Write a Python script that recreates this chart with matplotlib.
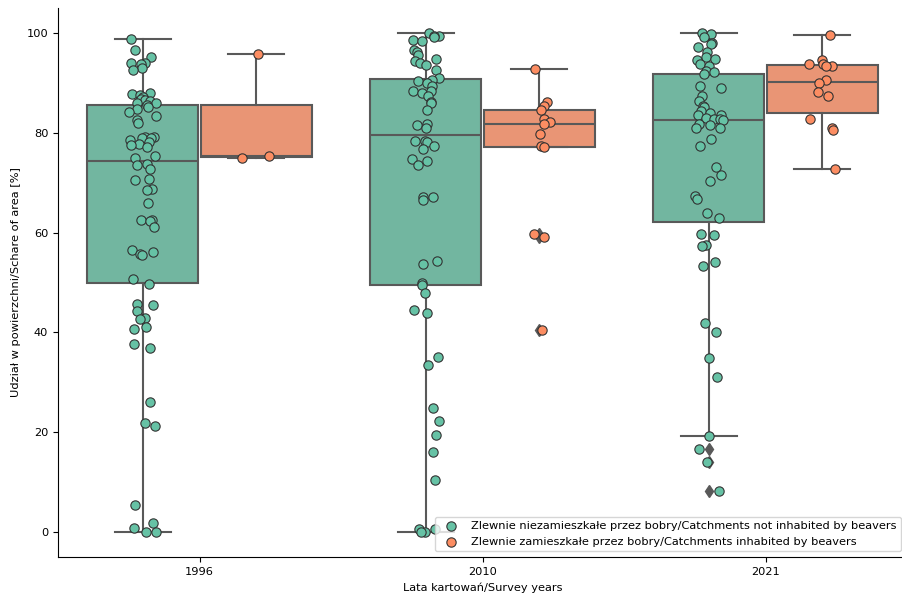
import numpy as np
import matplotlib.pyplot as plt

plt.rcParams['font.size'] = 8.2

years = ['1996', '2010', '2021']

# share of area [%] per catchment, not inhabited by beavers
not_inhabited_1996 = [98.7, 96.5, 95.1, 94.0, 93.9, 93.8, 93.0, 92.6,
                      87.9, 87.7, 87.6, 87.2, 86.8, 86.6, 86.4, 86.0, 85.9, 85.6, 85.2, 84.7, 84.2,
                      83.3, 82.6, 81.9,
                      79.1, 79.1, 79.0, 78.9, 78.5, 78.2, 77.7, 77.6, 77.1, 75.3, 75.0,
                      73.8, 73.6, 72.7, 70.8, 70.5, 68.8, 68.6, 65.9, 62.6, 62.5, 62.4, 61.1,
                      56.6, 56.2, 55.8, 55.5, 50.7,
                      49.7, 45.6, 45.4, 44.3, 42.8, 42.7, 41.1, 40.7, 37.7, 36.8, 26.1, 21.9,
                      21.3, 5.5, 1.9, 0.8, 0.0, 0.0]
not_inhabited_2010 = [100.0, 99.4, 99.3, 99.1, 98.6, 98.4, 96.6, 96.1, 95.6, 94.7, 94.3, 93.9,
                      93.6, 92.6, 90.9,
                      90.6, 90.4, 89.9, 89.4, 88.4, 88.3, 87.9, 87.3, 86.1, 85.9, 84.6, 81.8,
                      81.6, 80.9,
                      78.3, 78.3, 78.1, 77.4, 76.7, 74.8, 74.4, 73.5, 67.1, 67.1, 66.5, 54.3,
                      53.8, 49.9,
                      49.4, 47.9, 44.5, 43.9, 35.1, 33.4, 24.9, 22.3, 19.5, 16.1, 10.5, 0.6,
                      0.6, 0.0, 0.0]
not_inhabited_2021 = [100.0, 99.7, 99.1, 97.9, 97.7, 97.1, 96.1, 95.1, 94.8, 94.6, 93.7, 93.3, 92.3,
                      92.1, 91.8, 89.4, 88.9, 87.4, 86.4, 85.4, 85.1, 84.3, 84.0, 83.6, 83.6,
                      82.9, 82.7, 82.7,
                      82.5, 81.7, 81.5, 81.0, 80.9, 78.7, 77.3, 73.1, 71.5, 70.3, 67.3, 66.8,
                      64.0, 63.0,
                      59.7, 59.6, 57.6, 57.3, 54.1, 53.4, 41.9, 40.1, 34.8, 31.1, 19.3, 16.6,
                      14.1, 8.3]

# share of area [%] per catchment, inhabited by beavers
inhabited_1996 = [95.8, 75.4, 75.0]
inhabited_2010 = [92.7, 86.1, 85.4, 84.6, 82.8, 82.1, 81.8, 79.7, 77.3, 77.2, 59.7, 59.1, 40.5]
inhabited_2021 = [99.5, 94.6, 93.7, 93.7, 93.4, 93.3, 90.6, 89.9, 88.2, 87.4, 82.7, 80.9, 80.6, 72.7]

groups = [
    ('Zlewnie niezamieszkałe przez bobry/Catchments not inhabited by beavers',
     [not_inhabited_1996, not_inhabited_2010, not_inhabited_2021],
     '#66c2a5', '#72b6a0', -0.2),
    ('Zlewnie zamieszkałe przez bobry/Catchments inhabited by beavers',
     [inhabited_1996, inhabited_2010, inhabited_2021],
     '#fc8d62', '#e99575', 0.2),
]

gray = '#595959'
rng = np.random.default_rng(3)

fig = plt.figure(figsize=(9.03, 5.98), dpi=100)
ax = fig.add_axes([58 / 903, 41 / 598, 849 / 903, 549 / 598])

for label, data, point_color, box_color, offset in groups:
    pos = np.arange(len(years)) + offset
    ax.boxplot(data, positions=pos, widths=0.392, patch_artist=True,
               boxprops=dict(facecolor=box_color, edgecolor=gray, linewidth=1.5),
               whiskerprops=dict(color=gray, linewidth=1.5),
               capprops=dict(color=gray, linewidth=1.5),
               medianprops=dict(color=gray, linewidth=1.5),
               flierprops=dict(marker='d', markerfacecolor=gray, markeredgecolor=gray,
                               markersize=6))
    for i, vals in enumerate(data):
        x = pos[i] + rng.uniform(-0.05, 0.05, len(vals))
        ax.scatter(x, vals, s=45, color=point_color, edgecolor='#333333',
                   linewidth=0.8, zorder=3, label=label if i == 0 else None)

ax.set_xlim(-0.5, 2.5)
ax.set_ylim(-5, 105)
ax.set_xticks(range(len(years)))
ax.set_xticklabels(years)
ax.set_xlabel('Lata kartowań/Survey years')
ax.set_ylabel('Udział w powierzchni/Schare of area [%]')
ax.spines['top'].set_visible(False)
ax.spines['right'].set_visible(False)
ax.legend(loc='lower right')

fig.savefig('out.png', dpi=100)
